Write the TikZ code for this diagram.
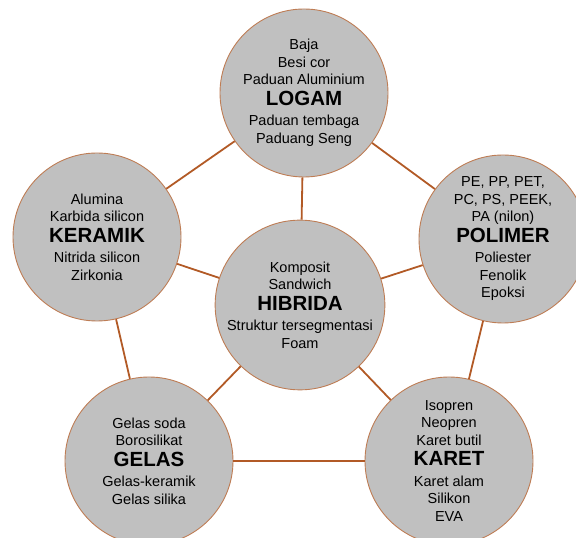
\documentclass[tikz,border=0pt]{standalone}
\usepackage{fontspec}
\setmainfont{Liberation Sans}
\definecolor{rimbrown}{RGB}{190,125,85}
\definecolor{linkbrown}{RGB}{178,90,38}
\definecolor{discgray}{RGB}{192,192,192}
\newcommand{\kelas}[1]{{\fontsize{20.5}{22}\selectfont\bfseries #1}}

\begin{document}
\begin{tikzpicture}[x=1pt,y=1pt,
	material/.style={circle,draw=rimbrown,line width=0.9pt,fill=discgray,
		minimum size=168pt,inner sep=0pt,align=center,
		font=\fontsize{14.5}{17.5}\selectfont},
	connector/.style={draw=linkbrown,line width=1.8pt}]
\useasboundingbox (0,0) rectangle (576,538);
\node[material] (logam) at (304,445) {Baja\\Besi cor\\Paduan Aluminium\\[3pt]\kelas{LOGAM}\\[3pt]Paduan tembaga\\Paduang Seng};
\node[material] (keramik) at (97,301) {Alumina\\Karbida silicon\\[3pt]\kelas{KERAMIK}\\[3pt]Nitrida silicon\\Zirkonia};
\node[material] (polimer) at (503,299) {PE, PP, PET,\\PC, PS, PEEK,\\PA (nilon)\\[3pt]\kelas{POLIMER}\\[3pt]Poliester\\Fenolik\\Epoksi};
\node[material] (hibrida) at (300,233) {Komposit\\Sandwich\\[3pt]\kelas{HIBRIDA}\\[3pt]Struktur tersegmentasi\\Foam};
\node[material] (gelas) at (149,77) {Gelas soda\\Borosilikat\\[3pt]\kelas{GELAS}\\[3pt]Gelas-keramik\\Gelas silika};
\node[material] (karet) at (449,77) {Isopren\\Neopren\\Karet butil\\[3pt]\kelas{KARET}\\[3pt]Karet alam\\Silikon\\EVA};
% cincin luar
\draw[connector] (logam) -- (keramik);
\draw[connector] (logam) -- (polimer);
\draw[connector] (polimer) -- (karet);
\draw[connector] (karet) -- (gelas);
\draw[connector] (gelas) -- (keramik);
% jari-jari dari pusat
\foreach \luar in {logam,keramik,polimer,gelas,karet}
	\draw[connector] (hibrida) -- (\luar);
\end{tikzpicture}
\end{document}
